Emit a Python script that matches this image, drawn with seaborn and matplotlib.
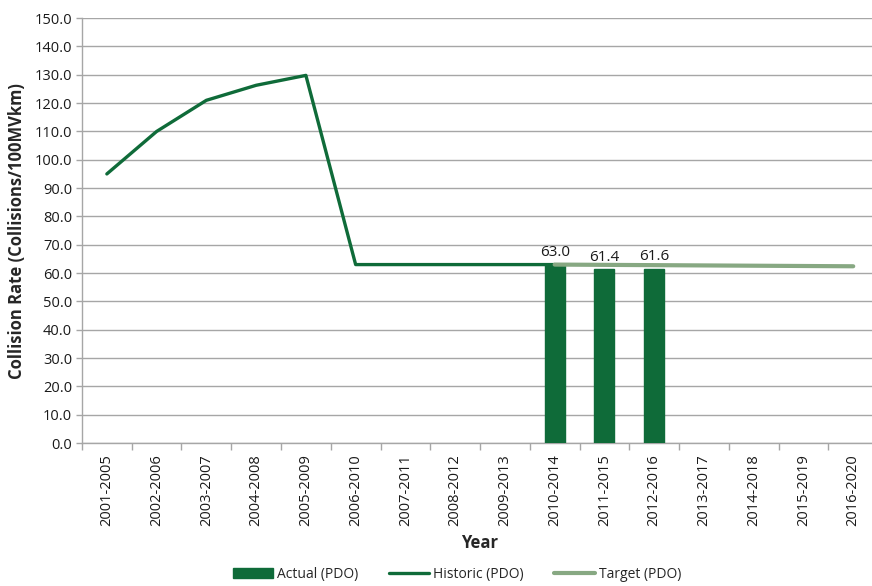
import numpy as np
import pandas as pd
import matplotlib
matplotlib.use("Agg")
import matplotlib.pyplot as plt
from matplotlib.patches import Patch
from matplotlib.lines import Line2D
import seaborn as sns

# Five-year rolling periods on the x axis
periods = ["2001-2005", "2002-2006", "2003-2007", "2004-2008", "2005-2009",
           "2006-2010", "2007-2011", "2008-2012", "2009-2013", "2010-2014",
           "2011-2015", "2012-2016", "2013-2017", "2014-2018", "2015-2019",
           "2016-2020"]

# Historic PDO collision rate (2001-2005 .. 2010-2014)
historic_periods = periods[:10]
historic_values = [95.0, 110.0, 121.0, 126.3, 129.8, 63.0, 63.0, 63.0, 63.0, 63.0]

# Target PDO collision rate (2010-2014 .. 2016-2020)
target_periods = periods[9:]
target_values = [63.0, 62.9, 62.8, 62.7, 62.6, 62.5, 62.4]

# Actual PDO collision rate
actual_periods = ["2010-2014", "2011-2015", "2012-2016"]
actual_values = [63.0, 61.4, 61.6]

y_ticks = np.arange(0, 151, 10)

dark_green = "#0f6b39"
light_green = "#87a882"
grid_grey = "#a6a6a6"

sns.set_theme(style="white")
plt.rcParams["font.family"] = ["Open Sans", "DejaVu Sans"]

fig = plt.figure(figsize=(8.72, 5.86), dpi=100)
ax = fig.add_axes([0.094, 0.244, 0.913, 0.725])

pos = {p: i for i, p in enumerate(periods)}

actual_df = pd.DataFrame({"period": actual_periods, "rate": actual_values})
sns.barplot(data=actual_df, x="period", y="rate", order=periods,
            color=dark_green, saturation=1, width=0.4, ax=ax, zorder=3,
            edgecolor=dark_green)
ax.bar_label(ax.containers[0], fmt="%.1f", padding=3, fontsize=11,
             color="#1a1a1a")

hist_df = pd.DataFrame({"x": [pos[p] for p in historic_periods],
                        "rate": historic_values})
sns.lineplot(data=hist_df, x="x", y="rate", color=dark_green, lw=2.4,
             ax=ax, zorder=4)

target_df = pd.DataFrame({"x": [pos[p] for p in target_periods],
                          "rate": target_values})
sns.lineplot(data=target_df, x="x", y="rate", color=light_green, lw=3,
             ax=ax, zorder=5)

ax.set_xlim(-0.5, len(periods) - 0.5)
ax.set_ylim(0, 150)
ax.set_yticks(y_ticks)
ax.set_yticklabels([f"{v:.1f}" for v in y_ticks], fontsize=10.5, color="#1a1a1a")
ax.set_xticks(range(len(periods)))
ax.set_xticklabels(periods, rotation=90, fontsize=10.5, color="#1a1a1a")
ax.set_xticks(np.arange(-0.5, len(periods), 1), minor=True)
ax.tick_params(axis="x", which="major", length=0, pad=8)
ax.tick_params(axis="x", which="minor", length=5, color=grid_grey, width=1,
               bottom=True)
ax.tick_params(axis="y", length=4, color=grid_grey, width=1, left=True, pad=3)

ax.grid(axis="y", color=grid_grey, lw=1, zorder=0)
ax.set_axisbelow(True)
for side in ["top", "right"]:
    ax.spines[side].set_visible(False)
for side in ["left", "bottom"]:
    ax.spines[side].set_color(grid_grey)
    ax.spines[side].set_linewidth(1)

ax.set_xlabel("Year", fontsize=12, fontweight="bold", labelpad=6)
ax.set_ylabel("Collision Rate (Collisions/100MVkm)", fontsize=12,
              fontweight="bold", labelpad=6)

handles = [Patch(facecolor=dark_green, edgecolor=dark_green),
           Line2D([], [], color=dark_green, lw=2.4),
           Line2D([], [], color=light_green, lw=3)]
fig.legend(handles, ["Actual (PDO)", "Historic (PDO)", "Target (PDO)"],
           loc="center", bbox_to_anchor=(0.524, 0.02), ncol=3, frameon=False,
           fontsize=10, handlelength=2.9, columnspacing=2.2, handletextpad=0.3)

fig.savefig("out.png", dpi=100)
